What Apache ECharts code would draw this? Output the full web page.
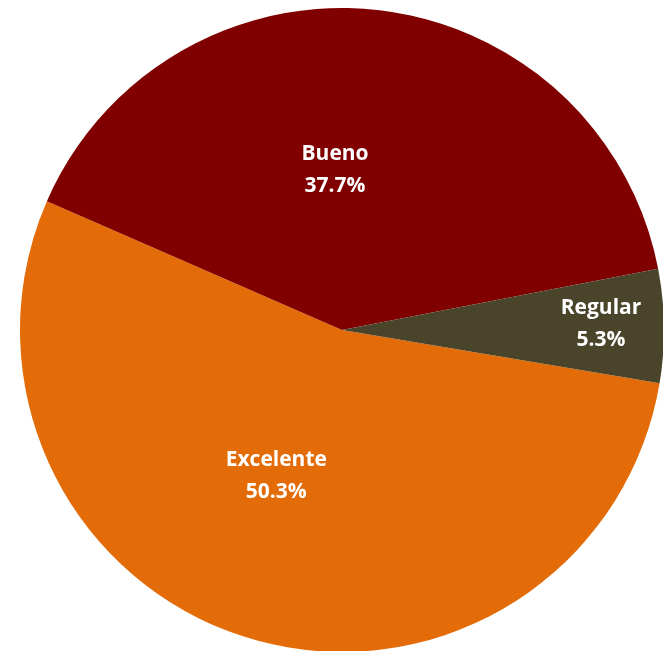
<!DOCTYPE html>
<html>
<head>
<meta charset="utf-8">
<script src="https://cdn.jsdelivr.net/npm/echarts@6/dist/echarts.min.js"></script>
<style>
html,body{margin:0;padding:0;background:#fff;}
#chart{width:663px;height:651px;}
</style>
</head>
<body>
<div id="chart"></div>
<script>
const categories = ['Excelente', 'Bueno', 'Regular'];
const values = [50.3, 37.7, 5.3];
const colors = ['#E36C09', '#800000', '#4A452A'];
const labelOffsets = [[-19, -11], [-25, 3], [95, -4]];

const chart = echarts.init(document.getElementById('chart'), null, {renderer: 'canvas'});
chart.setOption({
  animation: false,
  series: [{
    type: 'pie',
    center: [342, 330],
    radius: 322,
    startAngle: -9.5,
    clockwise: true,
    avoidLabelOverlap: false,
    data: categories.map((c, i) => ({name: c, value: values[i], itemStyle: {color: colors[i]}})),
    label: {
      show: true,
      position: 'inner',
      formatter: p => p.name + '\n' + p.value.toFixed(1) + '%',
      color: '#fff',
      fontFamily: 'Open Sans',
      fontWeight: 'bold',
      fontSize: 21,
      lineHeight: 32,
      align: 'center'
    },
    labelLine: {show: false},
    labelLayout: p => ({dx: labelOffsets[p.dataIndex][0], dy: labelOffsets[p.dataIndex][1]}),
    emphasis: {disabled: true}
  }]
});
</script>
</body>
</html>
